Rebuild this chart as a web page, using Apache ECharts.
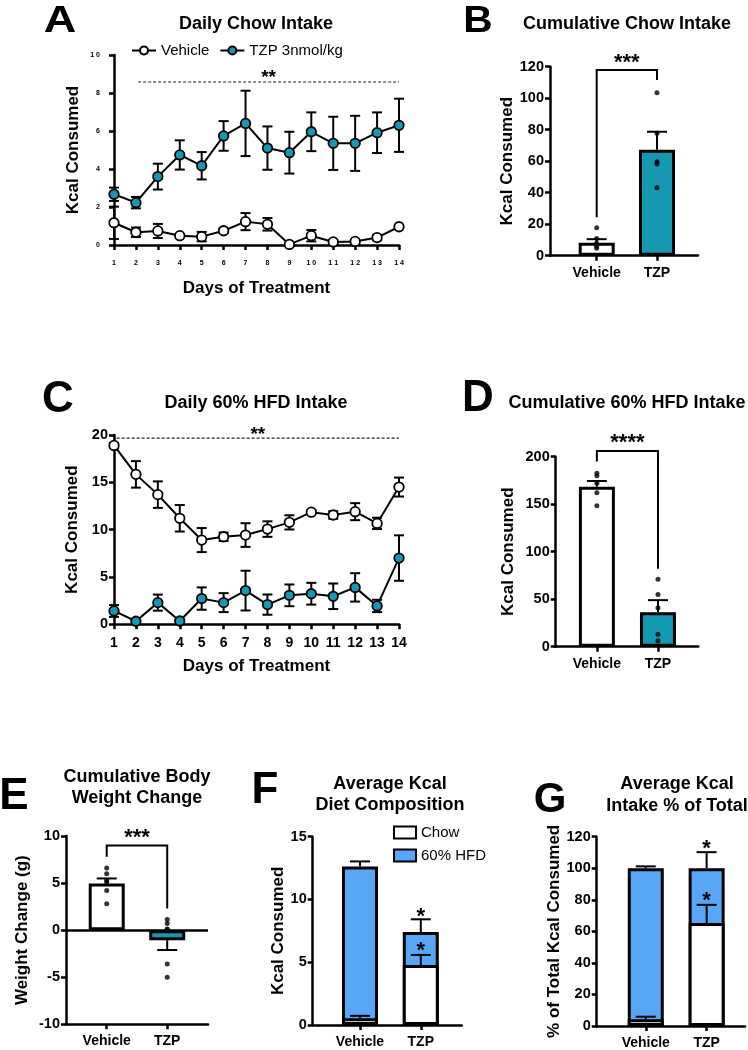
<!DOCTYPE html>
<html><head><meta charset="utf-8">
<script src="https://cdn.jsdelivr.net/npm/echarts@6/dist/echarts.min.js"></script>
<style>html,body{margin:0;padding:0;background:#fff}#c{width:748px;height:1050px}</style>
</head><body><div id="c"></div>
<script>
// ---------- DATA ----------
const days = [1,2,3,4,5,6,7,8,9,10,11,12,13,14];
const groups = ['Vehicle','TZP'];
// A: Daily chow intake (mean, SEM)
const chowVeh    = [1.17,0.67,0.74,0.49,0.44,0.75,1.23,1.09,0.03,0.49,0.16,0.19,0.39,0.96];
const chowVehSem = [0.85,0.25,0.37,0.06,0.25,0.12,0.45,0.33,0.04,0.3,0.08,0.08,0.14,0.07];
const chowTzp    = [2.67,2.23,3.6,4.74,4.17,5.74,6.4,5.1,4.86,5.96,5.35,5.35,5.91,6.3];
const chowTzpSem = [0.35,0.3,0.68,0.77,0.72,0.78,1.72,1.14,1.1,1.02,1.4,1.45,1.07,1.4];
// C: Daily 60% HFD intake
const hfdVeh    = [18.9,15.84,13.7,11.2,8.9,9.25,9.43,10.06,10.77,11.85,11.55,11.9,10.66,14.5];
const hfdVehSem = [0.25,1.4,1.4,1.4,1.27,0.45,1.25,0.82,0.75,0.2,0.4,0.9,0.6,1.0];
const hfdTzp    = [1.41,0.32,2.29,0.35,2.72,2.29,3.56,2.08,3.06,3.23,2.96,3.9,1.94,7.0];
const hfdTzpSem = [0.62,0.08,0.85,0.08,1.18,1.0,2.1,1.07,1.15,1.15,1.35,1.5,0.65,2.4];
// B: Cumulative chow intake
const bMean = [8.3, 67.3];
const bSem  = [2.2, 11.4];
const bVehPts = [17.8, 11.0, 7.9, 6.0, 4.7];
const bTzpPts = [103.5, 77.7, 59.7, 58.2, 43.2];
// D: Cumulative 60% HFD intake
const dMean = [168.4, 36.2];
const dSem  = [6.0, 12.8];
const dVehPts = [182.5, 180, 172, 162, 148.4];
const dTzpPts = [71, 55, 41, 13, 6.3];
// E: Cumulative body weight change
const eMean = [4.96, -1.06];
const eSem  = [0.53, 1.05];
const eVehPts = [6.6, 6.0, 5.3, 5.1, 4.2, 2.8];
const eTzpPts = [1.13, 0.7, 0.1, 0.1, -3.6, -5.0];
// F: Average kcal diet composition (stacked: chow + 60% HFD)
const fChow = [0.53, 4.78];
const fChowSem = [0.2, 0.8];
const fHfd = [12.1, 2.62];
const fTotalSem = [0.4, 1.02];
// G: Average kcal intake % of total (stacked: chow + 60% HFD)
const gChow = [4.2, 65.3];
const gChowSem = [1.7, 11.5];
const gHfd = [95.8, 34.7];
const gTotalSem = [1.2, 10.2];
// significance annotations
const sigA = [2.1, 14, 8.58, '**'];
const sigC = [1.12, 14, 19.67, '**'];
const brB = [0, 1, 117.9, 24.4, 111.5, '***'];
const brD = [0, 1, 206, 195, 82, '****'];
const brE = [0, 1, 9.0, 7.8, 2.3, '***'];

// ---------- STYLE ----------
const FONT = '"Liberation Sans", Arial, Helvetica, sans-serif';
const TEAL = '#1598b2', BLUE = '#58a6f6';
const chart = echarts.init(document.getElementById('c'), null, {renderer:'canvas'});

const grids = [
  {left:114, top:55, width:285, height:190},
  {left:550, top:66.7, width:148, height:189},
  {left:114, top:435, width:285, height:189.3},
  {left:555.7, top:456.7, width:142.6, height:190},
  {left:66, top:836, width:142, height:188.3},
  {left:312.7, top:836.7, width:149, height:188.3},
  {left:596.7, top:836.7, width:148.3, height:190}
];
const axLine = {show:true, onZero:false, lineStyle:{color:'#000', width:2.5}};
const axTick = {show:true, length:5, lineStyle:{color:'#000', width:2.5}};
const nameStyle = {fontFamily:FONT, fontWeight:'bold', fontSize:17, color:'#000'};
const lblStyle = (sz, m) => ({fontFamily:FONT, fontWeight:'bold', fontSize:sz, color:'#000', margin:m});

function lineX(gi, small, gap){
  return {gridIndex:gi, type:'value', min:1, max:14, interval:1, axisLine:axLine, axisTick:axTick,
    splitLine:{show:false},
    axisLabel: small ? Object.assign(lblStyle(7,15), {formatter:v=>String(v).split('').join(' ')}) : lblStyle(14,12),
    name:'Days of Treatment', nameLocation:'middle', nameGap:gap, nameTextStyle:nameStyle};
}
function valY(gi, min, max, interval, name, gap, small){
  return {gridIndex:gi, type:'value', min, max, interval, axisLine:axLine, axisTick:axTick,
    splitLine:{show:false},
    axisLabel: small ? Object.assign(lblStyle(7,14), {formatter:v=>String(v).split('').join(' ')}) : lblStyle(14.5,6),
    name, nameLocation:'middle', nameGap:gap, nameTextStyle:nameStyle};
}
function barX(gi, min, max){
  return {gridIndex:gi, type:'value', min, max, axisLine:axLine,
    axisTick:Object.assign({}, axTick, {customValues:[0,1]}),
    axisLabel:Object.assign(lblStyle(14,10), {customValues:[0,1], formatter:v=>groups[Math.round(v)]}),
    splitLine:{show:false}};
}

function errSeries(gi, xs, ys, sems, opt){
  return {type:'custom', xAxisIndex:gi, yAxisIndex:gi, z:opt.z||4, silent:true,
    data: xs.map((x,i)=>[x, ys[i], sems[i]]),
    renderItem:(params, api)=>{
      const x=api.value(0), y=api.value(1), e=api.value(2);
      const dir = y < 0 ? -1 : 1;
      const hiV = y + dir*e, loV = opt.both ? y - dir*e : y;
      const pHi = api.coord([x, hiV]), pLo = api.coord([x, loV]);
      const w = opt.cap/2;
      const st = {stroke:'#000', lineWidth:opt.lw||2};
      const ch = [
        {type:'line', shape:{x1:pLo[0],y1:pLo[1],x2:pHi[0],y2:pHi[1]}, style:st},
        {type:'line', shape:{x1:pHi[0]-w,y1:pHi[1],x2:pHi[0]+w,y2:pHi[1]}, style:st}
      ];
      if (opt.both) ch.push({type:'line', shape:{x1:pLo[0]-w,y1:pLo[1],x2:pLo[0]+w,y2:pLo[1]}, style:st});
      if (opt.star && opt.star[params.dataIndex]) ch.push({type:'text', x:pHi[0], y:pHi[1]-opt.starOff,
        style:{text:'*', fill:'#000', font:'bold 22px '+FONT, align:'center', verticalAlign:'middle'}});
      return {type:'group', children:ch};
    }};
}
function sigLine(gi, s, off){
  return {type:'custom', xAxisIndex:gi, yAxisIndex:gi, z:4, silent:true, data:[[s[0], s[2], s[1]]],
    renderItem:(p, api)=>{
      const a = api.coord([api.value(0), api.value(1)]), b = api.coord([api.value(2), api.value(1)]);
      return {type:'group', children:[
        {type:'line', shape:{x1:a[0],y1:a[1],x2:b[0],y2:b[1]}, style:{stroke:'#222', lineWidth:1.2, lineDash:[3,2]}},
        {type:'text', x:(a[0]+b[0])/2, y:a[1]-off, style:{text:s[3], fill:'#000', font:'bold 19px '+FONT, align:'center', verticalAlign:'middle'}}
      ]};
    }};
}
function bracket(gi, b, off){
  return {type:'custom', xAxisIndex:gi, yAxisIndex:gi, z:4, silent:true, data:[[b[0], b[2], b[1], b[3], b[4]]],
    renderItem:(p, api)=>{
      const x1=api.value(0), top=api.value(1), x2=api.value(2);
      const a = api.coord([x1, api.value(3)]), at = api.coord([x1, top]);
      const c = api.coord([x2, api.value(4)]), ct = api.coord([x2, top]);
      return {type:'group', children:[
        {type:'polyline', shape:{points:[a, at, ct, c]}, style:{stroke:'#000', lineWidth:2, fill:null}},
        {type:'text', x:(at[0]+ct[0])/2, y:at[1]-off, style:{text:b[5], fill:'#000', font:'bold 22px '+FONT, align:'center', verticalAlign:'middle'}}
      ]};
    }};
}
function lineSeries(gi, name, vals, fill){
  return {type:'line', name, xAxisIndex:gi, yAxisIndex:gi, z:6, silent:true,
    data: days.map((d,i)=>[d, vals[i]]), symbol:'circle', symbolSize:9.5,
    lineStyle:{color:'#000', width:2}, itemStyle:{color:fill, borderColor:'#000', borderWidth:1.8}};
}
function barSeries(gi, name, vals, colors, z){
  return {type:'bar', name, xAxisIndex:gi, yAxisIndex:gi, barWidth:36, barGap:'-100%', z:z||2, silent:true,
    data: vals.map((v,i)=>({value:[i, v], itemStyle:{color:colors[i]}})),
    itemStyle:{color:colors[0], borderColor:'#000', borderWidth:3}};
}
function dots(gi, a, b){
  return {type:'scatter', xAxisIndex:gi, yAxisIndex:gi, z:7, silent:true, symbolSize:5,
    itemStyle:{color:'#000'}, data:[...a.map(v=>[0,v]), ...b.map(v=>[1,v])]};
}
// stacked segments: the HFD segment sits on top of the chow segment
const fTop = fChow.map((c,i)=>c+fHfd[i]);
const gTop = gChow.map((c,i)=>c+gHfd[i]);

const series = [
  // A
  errSeries(0, days, chowVeh, chowVehSem, {both:true, cap:10}),
  errSeries(0, days, chowTzp, chowTzpSem, {both:true, cap:10}),
  lineSeries(0, 'Vehicle', chowVeh, '#fff'),
  lineSeries(0, 'TZP 3nmol/kg', chowTzp, TEAL),
  sigLine(0, sigA, 4),
  // C
  errSeries(2, days, hfdVeh, hfdVehSem, {both:true, cap:10}),
  errSeries(2, days, hfdTzp, hfdTzpSem, {both:true, cap:10}),
  lineSeries(2, 'Vehicle', hfdVeh, '#fff'),
  lineSeries(2, 'TZP 3nmol/kg', hfdTzp, TEAL),
  sigLine(2, sigC, 3),
  // B
  barSeries(1, 'B', bMean, ['#fff', TEAL]),
  errSeries(1, [0,1], bMean, bSem, {cap:20}),
  dots(1, bVehPts, bTzpPts),
  bracket(1, brB, 7),
  // D
  barSeries(3, 'D', dMean, ['#fff', TEAL]),
  errSeries(3, [0,1], dMean, dSem, {cap:20}),
  dots(3, dVehPts, dTzpPts),
  bracket(3, brD, 8),
  // E
  Object.assign(barSeries(4, 'E', eMean, ['#fff', TEAL]), {markLine:{symbol:'none', silent:true, label:{show:false},
    lineStyle:{color:'#000', width:2.5, type:'solid'}, data:[{yAxis:0}]}}),
  errSeries(4, [0,1], eMean, eSem, {cap:20}),
  dots(4, eVehPts, eTzpPts),
  bracket(4, brE, 7),
  // F
  barSeries(5, '60% HFD', fTop, [BLUE, BLUE], 2),
  barSeries(5, 'Chow', fChow, ['#fff','#fff'], 3),
  errSeries(5, [0,1], fChow, fChowSem, {cap:20, star:[false,true], starOff:4}),
  errSeries(5, [0,1], fTop, fTotalSem, {cap:20, star:[false,true], starOff:2}),
  // G
  barSeries(6, '60% HFD', gTop, [BLUE, BLUE], 2),
  barSeries(6, 'Chow', gChow, ['#fff','#fff'], 3),
  errSeries(6, [0,1], gChow, gChowSem, {cap:20, star:[false,true], starOff:4}),
  errSeries(6, [0,1], gTop, gTotalSem, {cap:20, star:[false,true], starOff:3})
];

const txt = (x, y, text, size, extra) => Object.assign({type:'text', x, y, silent:true,
  style:{text, fill:'#000', font:'bold '+size+'px '+FONT, align:'center', verticalAlign:'middle'}}, extra||{});

const graphic = [
  txt(60, 22, 'A', 36, {scaleX:1.25}), txt(478, 22, 'B', 37, {scaleX:1.1}),
  txt(58, 400, 'C', 44), txt(478, 399, 'D', 44),
  txt(14, 797, 'E', 44), txt(265, 791, 'F', 44), txt(550, 800, 'G', 42),
  txt(256, 24, 'Daily Chow Intake', 18), txt(627, 24, 'Cumulative Chow Intake', 18),
  txt(256, 403, 'Daily 60% HFD Intake', 18), txt(627, 403, 'Cumulative 60% HFD Intake', 18),
  txt(137, 777, 'Cumulative Body', 18), txt(137, 798, 'Weight Change', 18),
  txt(390, 784, 'Average Kcal', 18), txt(390, 805, 'Diet Composition', 18),
  txt(677, 784, 'Average Kcal', 18), txt(677, 806, 'Intake % of Total', 18)
];

chart.setOption({
  animation:false,
  grid: grids,
  xAxis: [lineX(0,true,35), barX(1,-0.774,1.68), lineX(2,false,34), barX(3,-0.674,1.66),
          barX(4,-0.673,1.674), barX(5,-0.778,1.673), barX(6,-0.806,1.63)],
  yAxis: [valY(0,0,10,2,'Kcal Consumed',32,true), valY(1,0,120,20,'Kcal Consumed',33),
          valY(2,0,20,5,'Kcal Consumed',33), valY(3,0,200,50,'Kcal Consumed',39),
          valY(4,-10,10,5,'Weight Change (g)',35), valY(5,0,15,5,'Kcal Consumed',23),
          valY(6,0,120,20,'% of Total Kcal Consumed',33)],
  legend: [
    {data:['Vehicle','TZP 3nmol/kg'], left:126, top:38, itemWidth:24, itemHeight:10, itemGap:10, selectedMode:false,
     textStyle:{fontFamily:FONT, fontSize:15, color:'#000'}},
    {data:['Chow','60% HFD'], orient:'vertical', left:388, top:820, itemWidth:22, itemHeight:12, itemGap:8, icon:'rect',
     selectedMode:false, textStyle:{fontFamily:FONT, fontSize:15, color:'#000'}}
  ],
  graphic,
  series
});
</script></body></html>
